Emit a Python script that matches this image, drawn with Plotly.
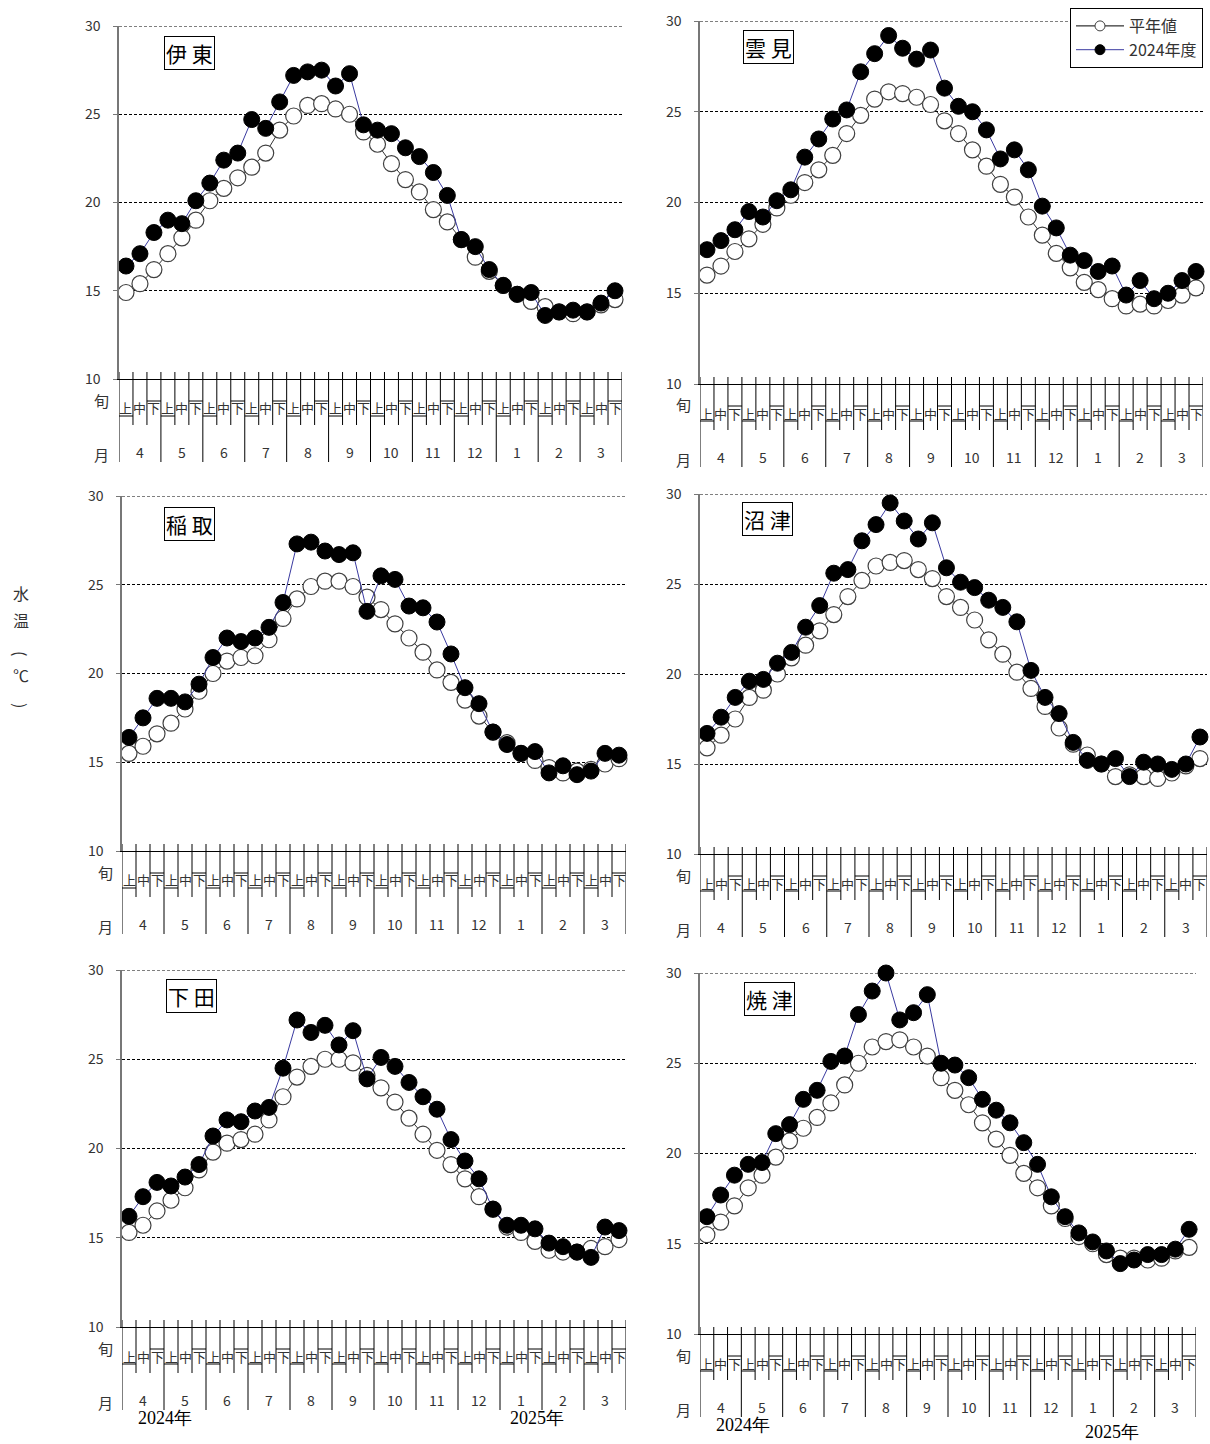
import plotly.graph_objects as go

W, H = 1210, 1444

months = ["4", "5", "6", "7", "8", "9", "10", "11", "12", "1", "2", "3"]
dekads = ["上", "中", "下"]
stations = ["伊東", "雲見", "稲取", "沼津", "下田", "焼津"]
legend_names = ["平年値", "2024年度"]
year_labels = ["2024年", "2025年"]
y_ticks = [10, 15, 20, 25, 30]

ito_normal = [14.9, 15.4, 16.2, 17.1, 18.0, 19.0, 20.1, 20.8, 21.4, 22.0, 22.8, 24.1,
              24.9, 25.5, 25.6, 25.3, 25.0, 24.0, 23.3, 22.2, 21.3, 20.6, 19.6, 18.9,
              17.9, 16.9, 16.1, 15.3, 14.8, 14.4, 14.1, 13.8, 13.7, 13.8, 14.2, 14.5]
ito_2024 = [16.4, 17.1, 18.3, 19.0, 18.8, 20.1, 21.1, 22.4, 22.8, 24.7, 24.2, 25.7,
            27.2, 27.4, 27.5, 26.6, 27.3, 24.4, 24.1, 23.9, 23.1, 22.6, 21.7, 20.4,
            17.9, 17.5, 16.2, 15.3, 14.8, 14.9, 13.6, 13.8, 13.9, 13.8, 14.3, 15.0]

kumomi_normal = [16.0, 16.5, 17.3, 18.0, 18.8, 19.7, 20.4, 21.1, 21.8, 22.6, 23.8, 24.8,
                 25.7, 26.1, 26.0, 25.8, 25.4, 24.5, 23.8, 22.9, 22.0, 21.0, 20.3, 19.2,
                 18.2, 17.2, 16.4, 15.6, 15.2, 14.7, 14.3, 14.4, 14.3, 14.6, 14.9, 15.3]
kumomi_2024 = [17.4, 17.9, 18.5, 19.5, 19.2, 20.1, 20.7, 22.5, 23.5, 24.6, 25.1, 27.2,
               28.2, 29.2, 28.5, 27.9, 28.4, 26.3, 25.3, 25.0, 24.0, 22.4, 22.9, 21.8,
               19.8, 18.6, 17.1, 16.8, 16.2, 16.5, 14.9, 15.7, 14.7, 15.0, 15.7, 16.2]

inatori_normal = [15.5, 15.9, 16.6, 17.2, 18.0, 19.0, 20.0, 20.7, 20.9, 21.0, 21.9, 23.1,
                  24.2, 24.9, 25.2, 25.2, 24.9, 24.3, 23.6, 22.8, 22.0, 21.2, 20.2, 19.5,
                  18.5, 17.6, 16.7, 16.1, 15.5, 15.1, 14.7, 14.4, 14.5, 14.6, 14.9, 15.2]
inatori_2024 = [16.4, 17.5, 18.6, 18.6, 18.4, 19.4, 20.9, 22.0, 21.8, 22.0, 22.6, 24.0,
                27.3, 27.4, 26.9, 26.7, 26.8, 23.5, 25.5, 25.3, 23.8, 23.7, 22.9, 21.1,
                19.2, 18.3, 16.7, 16.0, 15.5, 15.6, 14.4, 14.8, 14.3, 14.5, 15.5, 15.4]

numazu_normal = [15.9, 16.6, 17.5, 18.7, 19.1, 20.0, 20.9, 21.6, 22.4, 23.3, 24.3, 25.2,
                 26.0, 26.2, 26.3, 25.8, 25.3, 24.3, 23.7, 23.0, 21.9, 21.1, 20.1, 19.2,
                 18.2, 17.0, 16.1, 15.5, 15.0, 14.3, 14.4, 14.3, 14.2, 14.5, 14.9, 15.3]
numazu_2024 = [16.7, 17.6, 18.7, 19.6, 19.7, 20.6, 21.2, 22.6, 23.8, 25.6, 25.8, 27.4,
               28.3, 29.5, 28.5, 27.5, 28.4, 25.9, 25.1, 24.8, 24.1, 23.7, 22.9, 20.2,
               18.7, 17.8, 16.2, 15.2, 15.0, 15.3, 14.3, 15.1, 15.0, 14.7, 15.0, 16.5]

shimoda_normal = [15.3, 15.7, 16.5, 17.1, 17.8, 18.8, 19.8, 20.3, 20.5, 20.8, 21.6, 22.9,
                  24.0, 24.6, 25.0, 25.0, 24.8, 24.1, 23.4, 22.6, 21.7, 20.8, 19.9, 19.1,
                  18.3, 17.3, 16.6, 15.6, 15.3, 14.8, 14.3, 14.2, 14.2, 14.4, 14.5, 14.9]
shimoda_2024 = [16.2, 17.3, 18.1, 17.9, 18.4, 19.1, 20.7, 21.6, 21.5, 22.1, 22.3, 24.5,
                27.2, 26.5, 26.9, 25.8, 26.6, 23.9, 25.1, 24.6, 23.7, 22.9, 22.2, 20.5,
                19.3, 18.3, 16.6, 15.7, 15.7, 15.5, 14.7, 14.5, 14.2, 13.9, 15.6, 15.4]

yaizu_normal = [15.5, 16.2, 17.1, 18.1, 18.8, 19.8, 20.7, 21.4, 22.0, 22.8, 23.8, 25.0,
                25.9, 26.2, 26.3, 25.9, 25.4, 24.2, 23.5, 22.7, 21.7, 20.8, 19.9, 18.9,
                18.1, 17.1, 16.4, 15.4, 15.0, 14.4, 14.2, 14.2, 14.1, 14.2, 14.6, 14.8]
yaizu_2024 = [16.5, 17.7, 18.8, 19.4, 19.5, 21.1, 21.6, 23.0, 23.5, 25.1, 25.4, 27.7,
              29.0, 30.0, 27.4, 27.8, 28.8, 25.0, 24.9, 24.2, 23.0, 22.4, 21.7, 20.6,
              19.4, 17.6, 16.5, 15.6, 15.1, 14.6, 13.9, 14.1, 14.4, 14.4, 14.7, 15.8]

normals = [ito_normal, kumomi_normal, inatori_normal, numazu_normal, shimoda_normal, yaizu_normal]
current = [ito_2024, kumomi_2024, inatori_2024, numazu_2024, shimoda_2024, yaizu_2024]

# panel geometry in pixels: left, right, y(30), y(10)
panels = [
    (119, 622, 26, 379),
    (700, 1203, 21, 384),
    (122, 626, 496, 851),
    (700, 1207, 494, 854),
    (122, 626, 970, 1327),
    (700, 1196, 973, 1334),
]
label_boxes = [(189, 53), (768, 47), (189, 524), (767, 519), (191, 996), (769, 999)]
year_pos = {4: [(165, 1418), (537, 1418)], 5: [(743, 1425), (1112, 1432)]}

FONT = "Noto Sans CJK JP, Noto Sans, sans-serif"
TXT = "#333333"
DASH = "3px,2px"


def px(x):
    return x / W


def py(y):
    return 1 - y / H


cats = [f"{m}月{d}" for m in months for d in dekads]
xs = list(range(len(cats)))

fig = go.Figure()
shapes = []
annotations = []
layout_axes = {}

for i, (st, nv, cv, (x0, x1, yt, yb)) in enumerate(zip(stations, normals, current, panels)):
    n = "" if i == 0 else str(i + 1)
    xa, ya = "x" + n, "y" + n
    fig.add_trace(go.Scatter(
        x=xs, y=nv, xaxis=xa, yaxis=ya, mode="lines+markers", name=legend_names[0],
        showlegend=False, cliponaxis=False,
        line=dict(color="#000000", width=0.8),
        marker=dict(symbol="circle", size=16, color="white",
                    line=dict(color="#404040", width=1.2)),
        text=cats, hovertemplate="%{text}: %{y}℃<extra>" + st + " 平年値</extra>",
    ))
    fig.add_trace(go.Scatter(
        x=xs, y=cv, xaxis=xa, yaxis=ya, mode="lines+markers", name=legend_names[1],
        showlegend=False, cliponaxis=False,
        line=dict(color="#3a3aa0", width=1),
        marker=dict(symbol="circle", size=16, color="black",
                    line=dict(color="black", width=1)),
        text=cats, hovertemplate="%{text}: %{y}℃<extra>" + st + " 2024年度</extra>",
    ))
    layout_axes["xaxis" + n] = dict(
        domain=[px(x0), px(x1)], range=[-0.5, len(cats) - 0.5], anchor=ya,
        showline=True, linecolor="black", linewidth=1, showgrid=False,
        zeroline=False, showticklabels=False, ticks="", automargin=False,
    )
    layout_axes["yaxis" + n] = dict(
        domain=[py(yb), py(yt)], range=[10, 30], anchor=xa,
        tickvals=y_ticks, showgrid=True, gridcolor="black", gridwidth=1,
        griddash=DASH, zeroline=False, showline=True, linecolor="#777777",
        linewidth=1.5, ticks="outside", ticklen=4, tickcolor="#777777",
        ticklabelstandoff=10, tickfont=dict(family=FONT, size=14, color=TXT),
        automargin=False,
    )
    # top gridline (30) at the edge of the range
    shapes.append(dict(type="line", xref=xa + " domain", yref=ya, x0=0, x1=1,
                       y0=y_ticks[-1], y1=y_ticks[-1], layer="below",
                       line=dict(color="black", width=1, dash=DASH)))

    # category table under the plot
    for k in range(len(cats) + 1):
        is_month = (k % 3 == 0)
        shapes.append(dict(type="line", xref=xa, yref="paper",
                           x0=k - 0.5, x1=k - 0.5, y0=py(yb - 7),
                           y1=py(yb + (83 if is_month else 46)),
                           line=dict(color="black", width=1)))
    for m, mon in enumerate(months):
        shapes.append(dict(type="line", xref=xa, yref="paper",
                           x0=3 * m - 0.5, x1=3 * m + 0.5, y0=py(yb + 37), y1=py(yb + 37),
                           line=dict(color="black", width=1)))
        shapes.append(dict(type="line", xref=xa, yref="paper",
                           x0=3 * m + 1.5, x1=3 * m + 2.5, y0=py(yb + 22), y1=py(yb + 22),
                           line=dict(color="black", width=1)))
        annotations.append(dict(text=mon, xref=xa, yref="paper", x=3 * m + 1,
                                y=py(yb + 73), showarrow=False, xanchor="center",
                                yanchor="middle", font=dict(family=FONT, size=14, color=TXT)))
    for k in range(len(cats)):
        annotations.append(dict(text=dekads[k % 3], xref=xa, yref="paper", x=k,
                                y=py(yb + 29), showarrow=False, xanchor="center",
                                yanchor="middle", font=dict(family=FONT, size=13, color=TXT)))
    annotations.append(dict(text="旬", xref="paper", yref="paper", x=px(x0 - 17),
                            y=py(yb + 21), showarrow=False, xanchor="center",
                            yanchor="middle", font=dict(family=FONT, size=15, color=TXT)))
    annotations.append(dict(text="月", xref="paper", yref="paper", x=px(x0 - 17),
                            y=py(yb + 75), showarrow=False, xanchor="center",
                            yanchor="middle", font=dict(family=FONT, size=15, color=TXT)))
    bx, by = label_boxes[i]
    annotations.append(dict(text=st[0] + " " + st[1:], xref="paper", yref="paper",
                            x=px(bx), y=py(by),
                            showarrow=False, xanchor="center", yanchor="middle",
                            bordercolor="black", borderwidth=1, borderpad=1, bgcolor="white",
                            font=dict(family=FONT, size=21, color="black")))
    if i in year_pos:
        for (yx, yy), lab in zip(year_pos[i], year_labels):
            annotations.append(dict(text=lab, xref="paper", yref="paper", x=px(yx), y=py(yy),
                                    showarrow=False, xanchor="center", yanchor="middle",
                                    font=dict(family="Liberation Serif, serif", size=18,
                                              color="black")))

# y-axis title (vertical, brackets rotated)
for ch, yy, ang in [("水", 593, 0), ("温", 620, 0), ("(", 653, 90), ("℃", 675, 0), (")", 705, 90)]:
    annotations.append(dict(text=ch, xref="paper", yref="paper", x=px(21), y=py(yy),
                            showarrow=False, xanchor="center", yanchor="middle",
                            textangle=ang,
                            font=dict(family=FONT, size=16, color=TXT)))

# legend entries
fig.add_trace(go.Scatter(
    x=[None], y=[None], xaxis="x2", yaxis="y2", mode="lines+markers", name=legend_names[0],
    line=dict(color="black", width=1),
    marker=dict(size=10, color="white", line=dict(color="#404040", width=1)),
))
fig.add_trace(go.Scatter(
    x=[None], y=[None], xaxis="x2", yaxis="y2", mode="lines+markers", name=legend_names[1],
    line=dict(color="#3a3aa0", width=1),
    marker=dict(size=10, color="black", line=dict(color="black", width=1)),
))

fig.update_layout(
    width=W, height=H, margin=dict(l=0, r=0, t=0, b=0, pad=0, autoexpand=False),
    paper_bgcolor="white", plot_bgcolor="white",
    showlegend=True,
    legend=dict(x=px(1203), y=py(8), xanchor="right", yanchor="top",
                bordercolor="black", borderwidth=1, bgcolor="white",
                font=dict(family=FONT, size=16, color=TXT), itemwidth=48,
                tracegroupgap=0),
    shapes=shapes, annotations=annotations,
    **layout_axes,
)

fig.write_html("out.html", config={"displayModeBar": False},
               post_script="document.body.style.margin='0';document.body.style.padding='0';")
